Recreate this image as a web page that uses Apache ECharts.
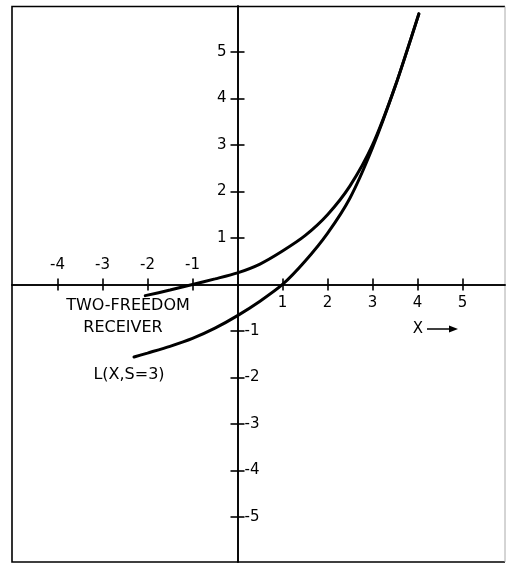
<!DOCTYPE html>
<html>
<head>
<meta charset="utf-8">
<script src="https://cdn.jsdelivr.net/npm/echarts@6/dist/echarts.min.js"></script>
<style>
  html, body { margin: 0; padding: 0; background: #fff; }
  #chart { width: 506px; height: 563px; }
</style>
</head>
<body>
<div id="chart"></div>
<script>
// Two-freedom receiver curve
const twoFreedomX = [-2.05, -1.5, -1, -0.5, 0, 0.5, 1, 1.5, 2, 2.5, 3, 3.5, 4.03];
const twoFreedomY = [-0.24, -0.12, 0, 0.12, 0.25, 0.44, 0.72, 1.05, 1.5, 2.12, 3.0, 4.25, 5.82];

// L(X, S = 3) curve
const lCurveX = [-2.3, -2, -1.5, -1, -0.5, 0, 0.5, 1, 1.5, 2, 2.5, 3, 3.5, 4.03];
const lCurveY = [-1.56, -1.475, -1.33, -1.16, -0.94, -0.67, -0.36, 0, 0.5, 1.1, 1.86, 2.94, 4.25, 5.82];

// Tick positions and labels
const xTicks = [-4, -3, -2, -1, 1, 2, 3, 4, 5];
const xLabelsBelow = [1, 2, 3, 4, 5];
const xLabelsAbove = [-4, -3, -2, -1];
const yTicks = [-5, -4, -3, -2, -1, 1, 2, 3, 4, 5];
const yLabelsLeft = [1, 2, 3, 4, 5];
const yLabelsRight = [-5, -4, -3, -2, -1];

// Annotation texts
const curveNoteA = ['TWO-FREEDOM', 'RECEIVER'];
const curveNoteB = 'L(X,S=3)';
const xAxisName = 'X';

const FONT = '"DejaVu Sans", sans-serif';
const INK = '#000';

function pairs(xs, ys) { return xs.map((x, i) => [x, ys[i]]); }

const W = 506, H = 563;
const G = { left: 12, right: 1, top: 6, bottom: 1 };
const xRange = { min: -5.011, max: 5.944 };
const yRange = { min: -5.968, max: 5.989 };

// Axes are placed through the origin by shifting them from the grid edges
const gw = W - G.left - G.right, gh = H - G.top - G.bottom;
const zeroFromLeft = (0 - xRange.min) / (xRange.max - xRange.min) * gw;
const zeroFromTop = (yRange.max - 0) / (yRange.max - yRange.min) * gh;
const offBottom = -(gh - zeroFromTop);
const offTop = -zeroFromTop;
const offLeft = -zeroFromLeft;
const offRight = -(gw - zeroFromLeft);

const chart = echarts.init(document.getElementById('chart'), null, { renderer: 'canvas' });

const axisLineStyle = { color: INK, width: 1.6 };
const tickStyle = { color: INK, width: 1.6 };
const labelBase = { color: INK, fontSize: 15, fontFamily: FONT };

chart.setOption({
  backgroundColor: '#fff',
  animation: false,
  grid: { ...G, containLabel: false, outerBoundsMode: 'none' },
  xAxis: [
    {
      type: 'value', position: 'bottom', offset: offBottom, ...xRange,
      axisLine: { show: true, onZero: false, lineStyle: axisLineStyle },
      axisTick: { show: true, length: 6, lineStyle: tickStyle, customValues: xTicks },
      axisLabel: { show: true, customValues: xLabelsBelow, margin: 11, ...labelBase },
      splitLine: { show: false }
    },
    {
      type: 'value', position: 'top', offset: offTop, ...xRange,
      axisLine: { show: true, onZero: false, lineStyle: axisLineStyle },
      axisTick: { show: true, length: 6, lineStyle: tickStyle, customValues: xTicks },
      axisLabel: { show: true, customValues: xLabelsAbove, margin: 12, ...labelBase },
      splitLine: { show: false }
    }
  ],
  yAxis: [
    {
      type: 'value', position: 'left', offset: offLeft, ...yRange,
      axisLine: { show: true, onZero: false, lineStyle: axisLineStyle },
      axisTick: { show: true, length: 7, lineStyle: tickStyle, customValues: yTicks },
      axisLabel: { show: true, customValues: yLabelsLeft, margin: 11, ...labelBase },
      splitLine: { show: false }
    },
    {
      type: 'value', position: 'right', offset: offRight, ...yRange,
      axisLine: { show: true, onZero: false, lineStyle: axisLineStyle },
      axisTick: { show: true, length: 7, lineStyle: tickStyle, customValues: yTicks },
      axisLabel: { show: true, customValues: yLabelsRight, margin: 7, ...labelBase },
      splitLine: { show: false }
    }
  ],
  series: [
    {
      name: 'Two-freedom receiver', type: 'line', xAxisIndex: 0, yAxisIndex: 0,
      data: pairs(twoFreedomX, twoFreedomY),
      smooth: 0.25, showSymbol: false,
      lineStyle: { color: INK, width: 3, cap: 'round' }
    },
    {
      name: 'L(X,S=3)', type: 'line', xAxisIndex: 0, yAxisIndex: 0,
      data: pairs(lCurveX, lCurveY),
      smooth: 0.25, showSymbol: false,
      lineStyle: { color: INK, width: 3, cap: 'round' }
    }
  ],
  graphic: [
    // outer frame
    { type: 'polyline', shape: { points: [[505, 6.5], [12, 6.5], [12, 562], [505, 562]] },
      style: { stroke: INK, lineWidth: 1.6, fill: null }, silent: true },
    { type: 'line', shape: { x1: 505, y1: 6.5, x2: 505, y2: 562 },
      style: { stroke: '#aaa', lineWidth: 1 }, silent: true },
    // curve annotations
    { type: 'text', x: 128, y: 306,
      style: { text: curveNoteA[0], font: '16px ' + FONT, fill: INK, align: 'center', verticalAlign: 'middle' } },
    { type: 'text', x: 123, y: 328,
      style: { text: curveNoteA[1], font: '16px ' + FONT, fill: INK, align: 'center', verticalAlign: 'middle' } },
    { type: 'text', x: 129, y: 375,
      style: { text: curveNoteB, font: '16px ' + FONT, fill: INK, align: 'center', verticalAlign: 'middle' } },
    // axis name with arrow
    { type: 'text', x: 418, y: 329,
      style: { text: xAxisName, font: '15px ' + FONT, fill: INK, align: 'center', verticalAlign: 'middle' } },
    { type: 'line', shape: { x1: 427, y1: 329, x2: 451, y2: 329 },
      style: { stroke: INK, lineWidth: 1.5 } },
    { type: 'polygon', shape: { points: [[449, 325.5], [458, 329], [449, 332.5]] },
      style: { fill: INK } }
  ]
});
</script>
</body>
</html>
